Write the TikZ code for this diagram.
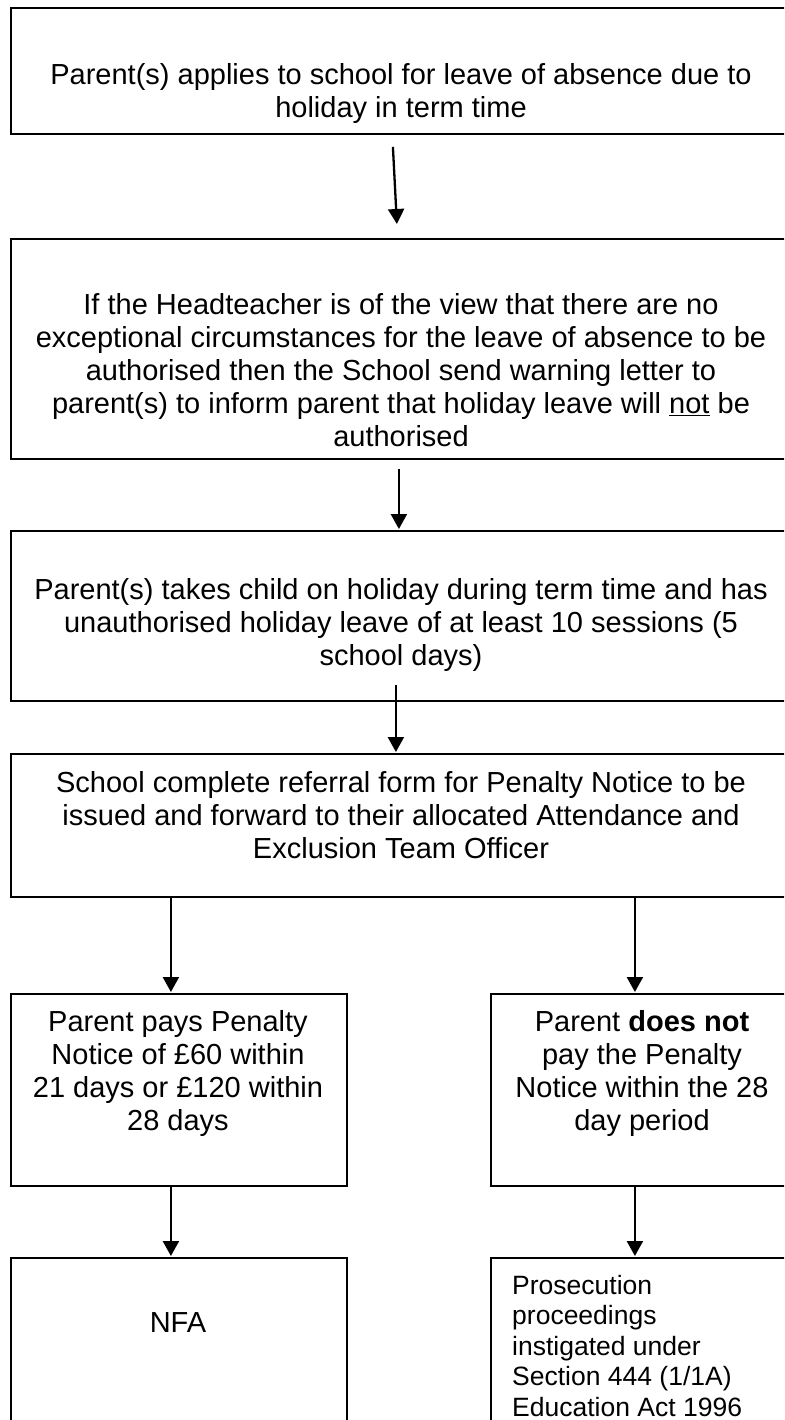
\documentclass[tikz,border=0pt]{standalone}
\usepackage{fontspec}
\setmainfont{Liberation Sans}
\usetikzlibrary{arrows.meta,calc}
\begin{document}
\begin{tikzpicture}[x=1pt,y=-1pt,
  box/.style={draw=black,line width=1.8pt,rectangle,inner sep=0pt,anchor=north west},
  txt/.style={inner sep=0pt,align=center,font=\fontsize{29}{33}\selectfont},
  ltxt/.style={inner sep=0pt,align=left,font=\fontsize{26.5}{30.5}\selectfont},
  arr/.style={line width=2.3pt,-{Triangle[length=15pt,width=16pt]}}]
\useasboundingbox (0,0) rectangle (784,1420);
\clip (0,0) rectangle (784,1420);
\fill[white] (0,0) rectangle (784,1420);
% boxes
\node[box,minimum width=782,minimum height=126] (b1) at (10,7) {};
\node[box,minimum width=782,minimum height=220] (b2) at (10,238) {};
\node[box,minimum width=782,minimum height=170] (b3) at (10,530) {};
\node[box,minimum width=782,minimum height=143] (b4) at (10,753) {};
\node[box,minimum width=336,minimum height=192] (b5l) at (10,993) {};
\node[box,minimum width=304,minimum height=192] (b5r) at (490,993) {};
\node[box,minimum width=336,minimum height=220] (b6l) at (10,1257) {};
\node[box,minimum width=304,minimum height=220] (b6r) at (490,1257) {};
% texts
\node[txt] (t1) at (401,94) {Parent(s) applies to school for leave of absence due to\\holiday in term time};
\node[txt] (t2) at (401,370) {If the Headteacher is of the view that there are no\\exceptional circumstances for the leave of absence to be\\authorised then the School send warning letter to\\parent(s) to inform parent that holiday leave will \underline{not} be\\authorised};
\node[txt] (t3) at (401,625) {Parent(s) takes child on holiday during term time and has\\unauthorised holiday leave of at least 10 sessions (5\\school days)};
\node[txt] (t4) at (401,815) {School complete referral form for Penalty Notice to be\\issued and forward to their allocated Attendance and\\Exclusion Team Officer};
\node[txt] (t5l) at (178,1073) {Parent pays Penalty\\Notice of £60 within\\21 days or £120 within\\28 days};
\node[txt] (t5r) at (642,1073) {Parent \textbf{does not}\\pay the Penalty\\Notice within the 28\\day period};
\node[txt] (t6l) at (178,1323) {NFA};
\node[ltxt,anchor=west] (t6r) at (512,1346) {Prosecution\\proceedings\\instigated under\\Section 444 (1/1A)\\Education Act 1996};
% arrows
\draw[arr] ($(b1.south)+(-9,12)$) -- ($(b2.north)+(-5,-14)$);
\draw[arr] ($(b2.south)+(-3,9)$) -- ($(b3.north)+(-3,-1)$);
\draw[arr] ($(b3.south)+(-6,-17)$) -- ($(b4.north)+(-6,-1)$);
\draw[arr] ($(b5l.north |- b4.south)+(-8,0)$) -- ($(b5l.north)+(-8,-1)$);
\draw[arr] ($(b5r.north |- b4.south)+(-8,0)$) -- ($(b5r.north)+(-8,-1)$);
\draw[arr] ($(b5l.south)+(-8,0)$) -- ($(b6l.north)+(-8,-1)$);
\draw[arr] ($(b5r.south)+(-8,0)$) -- ($(b6r.north)+(-8,-1)$);
\end{tikzpicture}
\end{document}
